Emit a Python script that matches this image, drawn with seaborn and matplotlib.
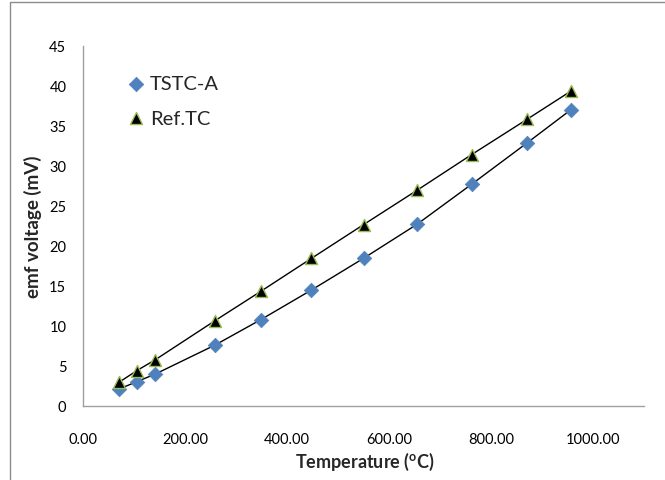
import matplotlib
matplotlib.use("Agg")
import matplotlib.pyplot as plt
import seaborn as sns
import pandas as pd
from matplotlib.patches import Rectangle

temps = [70.5, 105.4, 141.9, 258.9, 348.5, 448.0, 550.0, 654.8, 761.8, 871.4, 956.8]
tstc_a = [2.08, 3.0, 3.96, 7.58, 10.75, 14.46, 18.42, 22.67, 27.67, 32.88, 37.0]
ref_tc = [2.92, 4.38, 5.75, 10.63, 14.29, 18.42, 22.63, 26.92, 31.38, 35.83, 39.33]
series_names = ["TSTC-A", "Ref.TC"]
x_ticks = [0, 200, 400, 600, 800, 1000]
y_ticks = [0, 5, 10, 15, 20, 25, 30, 35, 40, 45]

df = pd.DataFrame({
    "Temperature": temps * 2,
    "emf": tstc_a + ref_tc,
    "Series": [series_names[0]] * len(temps) + [series_names[1]] * len(temps),
})

sns.set_theme(style="white")
plt.rcParams['font.family'] = ['Lato', 'DejaVu Sans']

W, H = 665, 481
fig = plt.figure(figsize=(6.65, 4.81), dpi=100)
ax = fig.add_axes([83/W, 1 - 406.7/H, (644-83)/W, (406.7-46.7)/H])

sns.lineplot(data=df, x="Temperature", y="emf", units="Series", estimator=None,
             color="black", linewidth=1.0, ax=ax, legend=False, zorder=2)
sub_a = df[df.Series == series_names[0]]
sub_r = df[df.Series == series_names[1]]
sns.scatterplot(data=sub_a, x="Temperature", y="emf", marker="D", s=55,
                color="#4F81BD", edgecolor="#4F81BD", linewidth=0.5, ax=ax,
                label=series_names[0], zorder=3)
sns.scatterplot(data=sub_r, x="Temperature", y="emf", marker="^", s=75,
                color="black", edgecolor="#9BBB59", linewidth=1.0, ax=ax,
                label=series_names[1], zorder=3)

ax.set_xlim(0, 1100)
ax.set_ylim(0, 45)
ax.set_xticks(x_ticks)
ax.set_xticklabels([f"{v:.2f}" for v in x_ticks])
ax.set_yticks(y_ticks)
ax.set_yticklabels([str(v) for v in y_ticks])
ax.tick_params(axis="both", length=0, labelsize=10.5, colors="black")
ax.tick_params(axis="x", pad=19)
ax.tick_params(axis="y", pad=12)

for s in ["top", "right"]:
    ax.spines[s].set_visible(False)
for s in ["left", "bottom"]:
    ax.spines[s].set_color("#A0A0A0")
    ax.spines[s].set_linewidth(1.0)
ax.grid(False)

ax.set_xlabel("Temperature ($\\mathregular{^{o}}$C)", fontsize=13, fontweight="bold",
              va="center")
ax.set_ylabel("emf voltage (mV)", fontsize=13.5, fontweight="bold", va="center")
ax.xaxis.set_label_coords((365 - 83) / (644 - 83), -(462 - 406.7) / 360)
ax.yaxis.set_label_coords(-(83 - 33) / (644 - 83), 0.5)

leg = ax.legend(loc="upper left", bbox_to_anchor=(0.062, 0.94), frameon=False,
                fontsize=14.5, handletextpad=0.2, labelspacing=0.85, handlelength=1.0,
                borderaxespad=0)

fig.patches.append(Rectangle((9.5/W, -0.1), 1.2, (H - 2.5)/H + 0.1,
                             transform=fig.transFigure, fill=False,
                             edgecolor="#8C8C8C", linewidth=1.0))

fig.savefig("out.png", dpi=100)
